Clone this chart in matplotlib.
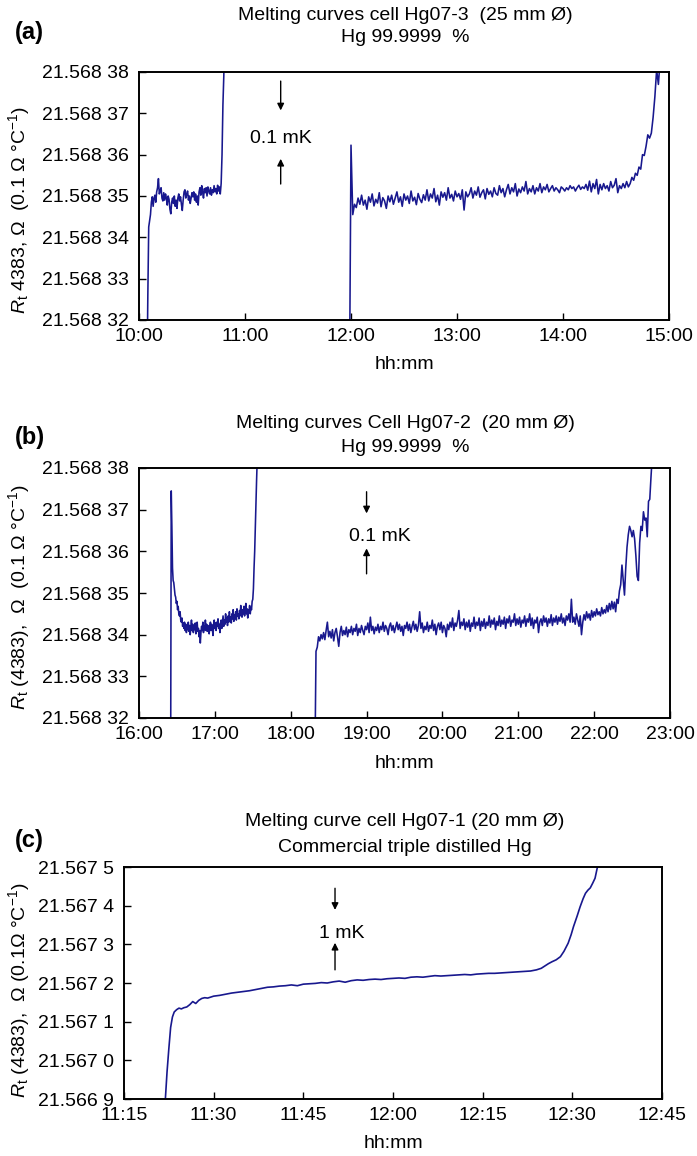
import numpy as np
import matplotlib
matplotlib.use("Agg")
import matplotlib.pyplot as plt

plt.rcParams['font.family'] = ['Liberation Sans', 'DejaVu Sans']
plt.rcParams['mathtext.fontset'] = 'custom'
plt.rcParams['mathtext.rm'] = 'Liberation Sans'
plt.rcParams['mathtext.it'] = 'Liberation Sans:italic'

# ---------------- DATA ----------------
# Panel (a): minutes after 10:00; resistance = 21.568 xx (units of 1e-5 ohm, last two digits)
a_xticks = [0, 60, 120, 180, 240, 300]
a_xticklabels = ["10:00", "11:00", "12:00", "13:00", "14:00", "15:00"]
a_yticks = [32, 33, 34, 35, 36, 37, 38]
a_yticklabels = ["21.568 32", "21.568 33", "21.568 34", "21.568 35", "21.568 36", "21.568 37", "21.568 38"]

a1_t0, a1_dt = 4.5, 0.5
a1_r = [30.5, 32.6, 34.25, 34.4, 34.55, 34.85, 34.98, 34.75, 34.95, 35.02, 34.85, 35.1, 35.2, 35.42,
        35.05, 35.12, 35.2, 34.95, 34.88, 35.08, 34.9, 35.05, 34.95, 34.78, 35.0, 34.92, 34.68, 34.57,
        34.85, 34.95, 34.82, 35.0, 34.75, 34.9, 34.7, 34.95, 35.05, 34.88, 34.98, 34.8, 34.65, 34.9,
        35.1, 35.15, 34.95, 35.05, 35.12, 34.9, 35.0, 34.82, 34.95, 35.08, 34.98, 35.1, 34.9, 35.05,
        34.85, 35.0, 34.78, 35.1, 35.2, 35.02, 35.25, 35.1, 34.95, 35.18, 35.08, 35.2, 35.0, 35.22,
        35.12, 35.05, 35.2, 35.02, 35.15, 35.08, 35.25, 35.1, 35.18, 35.05, 35.26, 35.12, 35.22, 35.05,
        35.3, 36.0, 37.2, 37.9, 39.0]

a2_t0, a2_dt = 119.0, 1.0
a2_r = [29.5, 36.23, 34.55, 34.80,
        34.72, 34.95, 34.80, 35.02, 34.78, 34.90, 34.68, 34.98, 34.85, 35.05, 34.76, 34.92, 34.83, 35.08, 34.74, 34.96, 34.88, 34.70, 35.00, 34.86,
        35.02, 34.80, 34.95, 35.10, 34.85, 34.98, 34.75, 35.05, 34.90, 35.00, 34.82, 35.12, 34.88, 34.97, 34.79, 35.06, 34.92, 34.84, 35.03, 34.90,
        35.15, 34.88, 35.05, 34.95, 35.18, 34.86, 35.02, 34.78, 35.10, 34.97, 35.08, 34.90, 35.20, 34.95, 35.04, 34.88, 35.12, 34.98, 35.06, 34.92,
        35.15, 34.66, 35.10, 34.98, 35.05, 35.20, 34.95, 35.12, 35.02, 35.22, 34.97, 35.08, 35.15, 34.93, 35.18, 35.04, 35.12, 34.98, 35.20, 35.06,
        35.02, 35.25, 35.08, 35.18, 34.98, 35.15, 35.28, 35.05, 35.20, 35.10, 35.30, 35.00, 35.17, 35.08, 35.22, 35.12, 35.35, 35.05, 35.18, 35.10,
        35.25, 35.05, 35.20, 35.12, 35.30, 35.08, 35.22, 35.15, 35.28, 35.10, 35.18, 35.25, 35.12, 35.20, 35.15, 35.08, 35.22, 35.18, 35.12, 35.20,
        35.15, 35.25, 35.18, 35.22, 35.12, 35.20, 35.26, 35.16, 35.22, 35.18, 35.28, 35.14, 35.36, 35.10, 35.30, 35.18, 35.40, 35.05, 35.28, 35.15,
        35.30, 35.18, 35.25, 35.12, 35.35, 35.20, 35.26, 35.42, 35.08, 35.25, 35.18, 35.30, 35.20, 35.35, 35.22,
        35.30, 35.45, 35.38, 35.55, 35.50, 35.70, 35.65, 36.00, 35.98, 36.20, 36.48, 36.40, 36.52, 36.90,
        37.40, 38.05, 37.70, 38.30]

# Panel (b): minutes after 16:00
b_xticks = [0, 60, 120, 180, 240, 300, 360, 420]
b_xticklabels = ["16:00", "17:00", "18:00", "19:00", "20:00", "21:00", "22:00", "23:00"]
b_yticks = [32, 33, 34, 35, 36, 37, 38]
b_yticklabels = ["21.568 32", "21.568 33", "21.568 34", "21.568 35", "21.568 36", "21.568 37", "21.568 38"]

b1_t0, b1_dt = 25.0, 0.5
b1_r = [30.5, 37.45, 36.6, 35.6, 35.3, 35.25, 35.1, 34.95, 34.9, 34.75, 34.8, 34.6, 34.68, 34.5,
        34.45, 34.55, 34.35, 34.3, 34.4, 34.2, 34.28, 34.15, 34.3, 34.1, 34.25, 34.05, 34.2, 34.12,
        34.3, 34.08, 34.22, 34.0, 34.18, 34.35, 34.1, 34.25, 34.05, 34.2, 34.12, 34.28, 34.02, 34.18,
        34.3, 34.08, 34.15, 33.95, 34.1, 33.8, 34.05, 34.2, 34.1, 34.3, 34.05, 34.2, 34.12, 34.35,
        34.1, 34.25, 34.08, 34.22, 34.15, 34.02, 34.2, 34.3, 34.1, 34.25, 34.15, 33.98, 34.2, 34.35,
        34.15, 34.28, 34.1, 34.3, 34.2, 34.38, 34.15, 34.25, 34.05, 34.28, 34.35, 34.15, 34.3, 34.45,
        34.2, 34.35, 34.25, 34.5, 34.3, 34.4, 34.22, 34.45, 34.3, 34.55, 34.35, 34.42, 34.28, 34.5,
        34.38, 34.6, 34.32, 34.48, 34.4, 34.55, 34.35, 34.62, 34.45, 34.5, 34.38, 34.58, 34.45, 34.7,
        34.5, 34.42, 34.6, 34.5, 34.68, 34.45, 34.58, 34.75, 34.5, 34.62, 34.4, 34.6, 34.55, 34.7,
        34.5, 34.65, 34.6, 34.8, 34.85, 35.1, 35.6, 36.0, 36.6, 37.2, 37.7, 38.2]

b2_t0, b2_dt = 139.0, 1.0
b2_r = [30.5, 33.6, 33.7, 33.95, 33.85, 34.0, 33.9, 34.05, 33.88, 34.1, 34.3, 33.95, 34.08, 33.92,
        34.12, 33.85, 34.05, 34.15, 33.95, 33.72, 34.05, 34.2, 33.98, 34.1, 34.0, 34.18, 33.95, 34.12,
        34.05, 34.2, 34.0, 34.15, 34.08, 34.25, 33.98, 34.15, 34.05, 34.22, 34.1, 34.0, 34.2, 34.12,
        34.28, 34.05, 34.42, 34.1, 34.2, 34.02, 34.18, 34.1, 34.25, 34.05, 34.2, 34.12, 34.3, 34.08,
        34.22, 34.15, 34.0, 34.2, 34.28, 34.1, 34.22, 34.05, 34.18, 34.3, 34.12, 34.25, 34.08, 34.2,
        33.98, 34.22, 34.15, 34.3, 34.1, 34.25, 34.05, 34.2, 34.32, 34.12, 34.25, 34.08, 34.22, 34.55,
        34.15, 34.28, 34.05, 34.2, 34.12, 34.3, 34.08, 34.22, 34.15, 34.35, 34.1, 34.25, 34.0, 34.2,
        34.28, 34.12, 34.3, 34.05, 34.22, 34.15, 33.95, 34.25, 34.12, 34.3, 34.18, 34.4, 34.1, 34.28,
        34.2, 34.35, 34.58, 34.15, 34.3, 34.22, 34.38, 34.12, 34.3, 34.18, 34.35, 34.08, 34.28, 34.2,
        34.42, 34.15, 34.3, 34.22, 34.4, 34.1, 34.32, 34.2, 34.38, 34.15, 34.3, 34.22, 34.45, 34.18,
        34.35, 34.25, 34.4, 34.12, 34.32, 34.22, 34.45, 34.2, 34.35, 34.25, 34.42, 34.15, 34.38, 34.28,
        34.45, 34.2, 34.35, 34.3, 34.5, 34.22, 34.38, 34.25, 34.42, 34.18, 34.35, 34.28, 34.45, 34.2,
        34.38, 34.3, 34.5, 34.22, 34.4, 34.15, 34.35, 34.28, 34.42, 34.05, 34.3, 34.38, 34.22, 34.45,
        34.3, 34.4, 34.2, 34.38, 34.28, 34.48, 34.22, 34.4, 34.3, 34.45, 34.25, 34.42, 34.32, 34.5,
        34.28, 34.4, 34.22, 34.45, 34.35, 34.5, 34.3, 34.85, 34.3, 34.42, 34.25, 34.5, 34.35, 34.2,
        34.45, 34.0, 34.3, 34.48, 34.35, 34.55, 34.4, 34.5, 34.35, 34.58, 34.42, 34.55, 34.45, 34.62,
        34.48, 34.55, 34.45, 34.65, 34.5, 34.6, 34.52, 34.7, 34.55, 34.75, 34.6, 34.8, 34.62, 34.78,
        34.55, 34.85, 34.75, 35.05, 35.2, 35.67, 35.3, 34.95, 35.6, 36.1, 36.4, 36.6, 36.5, 36.35,
        36.5, 36.3, 35.9, 35.4, 35.3, 36.2, 36.6, 36.5, 36.95, 36.75, 36.8, 36.35, 37.2, 37.25, 37.8, 38.3]

# Panel (c): minutes after 11:15; resistance = 21.567 + v * 1e-4 ohm
c_xticks = [0, 15, 30, 45, 60, 75, 90]
c_xticklabels = ["11:15", "11:30", "11:45", "12:00", "12:15", "12:30", "12:45"]
c_yticks = [-1, 0, 1, 2, 3, 4, 5]
c_yticklabels = ["21.566 9", "21.567 0", "21.567 1", "21.567 2", "21.567 3", "21.567 4", "21.567 5"]

c_t = [6.9, 7.2, 7.5, 7.8, 8.1, 8.4, 8.8, 9.2, 9.6, 10.0, 10.5, 11.0, 11.5, 12.0, 12.5, 13.0, 13.5,
       14.0, 15.0, 16.0, 17.0, 18.0, 19.0, 20.0, 21.0, 22.0, 23.0, 24.0, 25.0, 26.0, 27.0, 28.0, 29.0,
       30.0, 31.0, 32.0, 33.0, 34.0, 35.0, 36.0, 37.0, 38.0, 39.0, 40.0, 41.0, 42.0, 43.0, 44.0, 45.0,
       46.0, 47.0, 48.0, 49.0, 50.0, 51.0, 52.0, 53.0, 54.0, 55.0, 56.0, 57.0, 58.0, 59.0, 60.0, 61.0,
       62.0, 63.0, 64.0, 65.0, 66.0, 67.0, 68.0, 69.0, 69.8, 70.5, 71.0, 71.6, 72.3, 73.0, 73.6, 74.3,
       74.8, 75.2, 75.8, 76.3, 76.8, 77.2, 77.6, 78.0, 78.4, 78.8, 79.2, 79.5]
c_r = [-1.05, -0.3, 0.3, 0.85, 1.12, 1.25, 1.31, 1.35, 1.33, 1.36, 1.38, 1.44, 1.52, 1.47, 1.55, 1.6, 1.62,
       1.61, 1.66, 1.68, 1.71, 1.74, 1.76, 1.78, 1.8, 1.83, 1.86, 1.89, 1.9, 1.92, 1.93, 1.95, 1.93,
       1.97, 1.98, 1.99, 2.01, 2.0, 2.03, 2.05, 2.02, 2.06, 2.08, 2.07, 2.09, 2.1, 2.09, 2.11, 2.12,
       2.13, 2.12, 2.15, 2.16, 2.15, 2.17, 2.19, 2.18, 2.19, 2.2, 2.21, 2.22, 2.21, 2.23, 2.24, 2.25,
       2.25, 2.26, 2.27, 2.28, 2.29, 2.3, 2.31, 2.34, 2.38, 2.45, 2.5, 2.55, 2.6, 2.68, 2.82, 3.03,
       3.25, 3.46, 3.73, 3.97, 4.18, 4.32, 4.4, 4.46, 4.58, 4.71, 5.0, 5.2]

# ---------------- FIGURE ----------------
W, H = 697, 1156
fig = plt.figure(figsize=(W / 100, H / 100), dpi=100)
LINE = '#18188e'
FS = 14


def px_ax(l, t, r, b):
    return fig.add_axes([l / W, 1 - b / H, (r - l) / W, (b - t) / H])


def ftext(x, y, s, **kw):
    fig.text(x / W, 1 - y / H, s, **kw)


def style(ax, xt, xl, yt, yl, xlim, ylim):
    ax.set_xlim(*xlim)
    ax.set_ylim(*ylim)
    ax.set_xticks(xt)
    ax.set_xticklabels(xl)
    ax.set_yticks(yt)
    ax.set_yticklabels(yl)
    ax.tick_params(direction='in', length=5, width=1, labelsize=FS, top=False, right=False)
    ax.tick_params(axis='y', pad=7)
    ax.tick_params(axis='x', pad=6)
    for s in ax.spines.values():
        s.set_linewidth(1.4)


def arrows(ax, x, d0, d1, u0, u1, tx, ty, txt):
    ap = dict(arrowstyle='-|>', lw=1.0, color='black', mutation_scale=10, shrinkA=0, shrinkB=0)
    ax.annotate('', xy=(x, d1), xytext=(x, d0), arrowprops=ap)
    ax.annotate('', xy=(x, u1), xytext=(x, u0), arrowprops=ap)
    ax.text(tx, ty, txt, ha='center', va='center', fontsize=FS)


# Panel (a)
axa = px_ax(139, 72, 669, 320)
for t0, dt, r in [(a1_t0, a1_dt, a1_r), (a2_t0, a2_dt, a2_r)]:
    axa.plot(t0 + dt * np.arange(len(r)), r, color=LINE, lw=1.15)
style(axa, a_xticks, a_xticklabels, a_yticks, a_yticklabels, (0, 300), (32, 38))
arrows(axa, 80.2, 37.78, 37.07, 35.29, 35.9, 80.2, 36.39, '0.1 mK')
ftext(405, 15, 'Melting curves cell Hg07-3  (25 mm Ø)', ha='center', va='center', fontsize=FS)
ftext(405, 37.6, 'Hg 99.9999  %', ha='center', va='center', fontsize=FS)
ftext(15, 33, '(a)', ha='left', va='center', fontsize=17, fontweight='bold')
ftext(19, 210, r'$R_{\rm t}$ 4383, Ω  (0.1 Ω °C$^{-1}$)', rotation=90, ha='center', va='center', fontsize=FS)
ftext(404, 364.5, 'hh:mm', ha='center', va='center', fontsize=FS)

# Panel (b)
axb = px_ax(139, 468, 670, 718)
for t0, dt, r in [(b1_t0, b1_dt, b1_r), (b2_t0, b2_dt, b2_r)]:
    axb.plot(t0 + dt * np.arange(len(r)), r, color=LINE, lw=1.15)
style(axb, b_xticks, b_xticklabels, b_yticks, b_yticklabels, (0, 420), (32, 38))
arrows(axb, 180, 37.43, 36.91, 35.46, 36.07, 190.9, 36.35, '0.1 mK')
ftext(405, 423, 'Melting curves Cell Hg07-2  (20 mm Ø)', ha='center', va='center', fontsize=FS)
ftext(405, 447, 'Hg 99.9999  %', ha='center', va='center', fontsize=FS)
ftext(15, 438, '(b)', ha='left', va='center', fontsize=17, fontweight='bold')
ftext(19, 597, r'$R_{\rm t}$ (4383),  Ω  (0.1 Ω °C$^{-1}$)', rotation=90, ha='center', va='center', fontsize=FS)
ftext(404, 763, 'hh:mm', ha='center', va='center', fontsize=FS)

# Panel (c)
axc = px_ax(124, 867, 662, 1099)
axc.plot(c_t, c_r, color=LINE, lw=1.2)
style(axc, c_xticks, c_xticklabels, c_yticks, c_yticklabels, (0, 90), (-1, 5))
arrows(axc, 35.3, 4.45, 3.89, 2.34, 3.04, 36.5, 3.27, '1 mK')
ftext(405, 822, 'Melting curve cell Hg07-1 (20 mm Ø)', ha='center', va='center', fontsize=FS)
ftext(405, 847, 'Commercial triple distilled Hg', ha='center', va='center', fontsize=FS)
ftext(15, 840, '(c)', ha='left', va='center', fontsize=17, fontweight='bold')
ftext(19, 990, r'$R_{\rm t}$ (4383),  Ω (0.1Ω °C$^{-1}$)', rotation=90, ha='center', va='center', fontsize=FS)
ftext(393, 1144, 'hh:mm', ha='center', va='center', fontsize=FS)

fig.savefig('out.png', dpi=100)
